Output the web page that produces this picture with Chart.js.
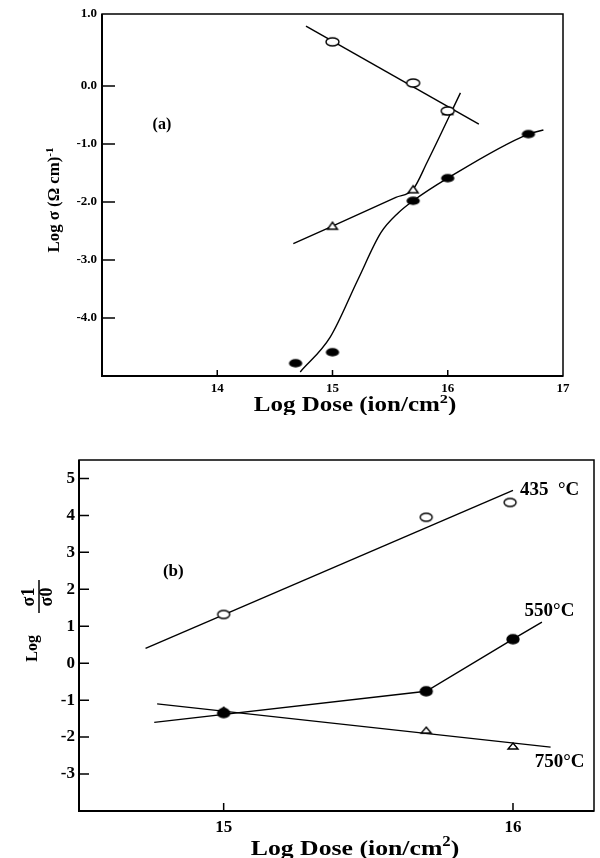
<!DOCTYPE html>
<html lang="en">
<head>
  <meta charset="UTF-8" />
  <title>Log conductivity vs dose</title>
  <script src="https://cdn.jsdelivr.net/npm/chart.js"></script>
  <style>
    body { margin: 0; background: #fff; }
    .panel { position: absolute; left: 0; width: 600px; }
    #panelA { top: 0; height: 415px; }
    #panelB { top: 415px; height: 443px; }
  </style>
</head>
<body>
  <div class="panel" id="panelA"><canvas id="chartA" width="600" height="415"></canvas></div>
  <div class="panel" id="panelB"><canvas id="chartB" width="600" height="443"></canvas></div>

  <script>
    // ---- panel (a) data ----
    const aTicksX = [14, 15, 16, 17];
    const aTicksY = [-4, -3, -2, -1, 0, 1.24];
    const aTickLabelsY = ['-4.0', '-3.0', '-2.0', '-1.0', '0.0', '1.0'];
    const aOpenCircles = [{x: 15.0, y: 0.76}, {x: 15.7, y: 0.05}, {x: 16.0, y: -0.43}];
    const aOpenFit = [{x: 14.77, y: 1.03}, {x: 16.27, y: -0.66}];
    const aTriangles = [{x: 15.0, y: -2.41}, {x: 15.7, y: -1.78}, {x: 16.0, y: -0.43}];
    const aTriCurve = [{x: 14.66, y: -2.72}, {x: 15.55, y: -1.92}, {x: 15.7, y: -1.78}, {x: 15.82, y: -1.32}, {x: 16.11, y: -0.12}];
    const aFilled = [{x: 14.68, y: -4.78}, {x: 15.0, y: -4.59}, {x: 15.7, y: -1.98}, {x: 16.0, y: -1.59}, {x: 16.7, y: -0.83}];
    const aFilledCurve = [
      {x: 14.72, y: -4.93}, {x: 14.98, y: -4.33}, {x: 15.22, y: -3.34}, {x: 15.42, y: -2.53},
      {x: 15.57, y: -2.19}, {x: 15.7, y: -1.98}, {x: 16.0, y: -1.59}, {x: 16.7, y: -0.83}, {x: 16.83, y: -0.76}
    ];

    // ---- panel (b) data ----
    const bTicksX = [15, 16];
    const bTicksY = [-3, -2, -1, 0, 1, 2, 3, 4, 5];
    const b435 = [{x: 15.0, y: 1.32}, {x: 15.7, y: 3.95}, {x: 15.99, y: 4.35}];
    const b435Fit = [{x: 14.73, y: 0.4}, {x: 16.0, y: 4.68}];
    const b550 = [{x: 15.0, y: -1.35}, {x: 15.7, y: -0.76}, {x: 16.0, y: 0.65}];
    const b550Line = [{x: 14.76, y: -1.6}, {x: 15.7, y: -0.76}, {x: 16.0, y: 0.65}, {x: 16.1, y: 1.11}];
    const b750 = [{x: 15.0, y: -1.27}, {x: 15.7, y: -1.81}, {x: 16.0, y: -2.24}];
    const b750Fit = [{x: 14.77, y: -1.1}, {x: 16.13, y: -2.27}];

    const SERIF = '"Liberation Serif", "DejaVu Serif", serif';

    // marker images (the scanned figure has slightly squashed symbols)
    function marker(kind, w, h) {
      const c = document.createElement('canvas');
      c.width = w + 4; c.height = h + 4;
      const g = c.getContext('2d');
      g.lineWidth = 1.4;
      g.strokeStyle = '#000';
      g.beginPath();
      if (kind === 'tri') {
        g.moveTo(c.width / 2, 2);
        g.lineTo(w + 2, h + 2);
        g.lineTo(2, h + 2);
        g.closePath();
      } else {
        g.ellipse(c.width / 2, c.height / 2, w / 2, h / 2, 0, 0, Math.PI * 2);
      }
      g.fillStyle = kind === 'dot' ? '#000' : '#fff';
      g.fill();
      g.stroke();
      return c;
    }

    function lineSet(data, extra) {
      return Object.assign({
        data: data, showLine: true, pointRadius: 0, borderColor: '#000',
        borderWidth: 1.4, tension: 0, order: 2
      }, extra || {});
    }
    function pointSet(data, style) {
      return { data: data, showLine: false, pointStyle: style, pointRadius: 5, order: 0 };
    }

    // draw text with superscript parts, optionally rotated; sx stretches it sideways
    function richText(ctx, parts, x, y, size, rotate, sx) {
      ctx.save();
      ctx.translate(x, y);
      if (rotate) ctx.rotate(-Math.PI / 2);
      ctx.scale(sx || 1, 1);
      ctx.fillStyle = '#000';
      ctx.textBaseline = 'alphabetic';
      let total = 0;
      parts.forEach(p => {
        ctx.font = 'bold ' + (p.sup ? size * 0.65 : size) + 'px ' + SERIF;
        total += ctx.measureText(p.t).width;
      });
      let cx = -total / 2;
      parts.forEach(p => {
        ctx.font = 'bold ' + (p.sup ? size * 0.65 : size) + 'px ' + SERIF;
        ctx.fillText(p.t, cx, p.sup ? -size * 0.4 : 0);
        cx += ctx.measureText(p.t).width;
      });
      ctx.restore();
    }

    // frame, inward tick marks and free text
    const framePlugin = {
      id: 'frame',
      afterDraw(chart, args, opts) {
        const ctx = chart.ctx;
        const a = chart.chartArea;
        const xs = chart.scales.x, ys = chart.scales.y;
        ctx.save();
        ctx.strokeStyle = '#000';
        ctx.lineWidth = 1.5;
        ctx.strokeRect(a.left, a.top, a.right - a.left, a.bottom - a.top);
        ctx.lineWidth = 2;
        ctx.beginPath();
        ctx.moveTo(a.left, a.top); ctx.lineTo(a.left, a.bottom); ctx.lineTo(a.right, a.bottom);
        ctx.stroke();
        ctx.lineWidth = 1.5;
        ctx.beginPath();
        ys.ticks.forEach(t => {
          const py = ys.getPixelForValue(t.value);
          if (py <= a.top + 1 || py >= a.bottom - 1) return;
          ctx.moveTo(a.left, py); ctx.lineTo(a.left + opts.yTick, py);
        });
        xs.ticks.forEach(t => {
          const px = xs.getPixelForValue(t.value);
          if (px >= a.right - 1) return;
          ctx.moveTo(px, a.bottom); ctx.lineTo(px, a.bottom - opts.xTick);
        });
        ctx.stroke();
        (opts.notes || []).forEach(n => {
          ctx.font = 'bold ' + n.size + 'px ' + SERIF;
          ctx.fillStyle = '#000';
          ctx.textAlign = n.align || 'left';
          ctx.textBaseline = 'middle';
          ctx.fillText(n.text, xs.getPixelForValue(n.x), ys.getPixelForValue(n.y));
        });
        ctx.restore();
        if (opts.draw) opts.draw(ctx, chart);
      }
    };

    function scaleOpts(min, max, ticks, labels, fontSize, pad, fit) {
      return {
        type: 'linear', min: min, max: max,
        grid: { display: false, drawTicks: false },
        border: { display: false },
        afterBuildTicks: s => { s.ticks = ticks.map(v => ({ value: v })); },
        afterFit: fit,
        ticks: {
          autoSkip: false, maxRotation: 0, color: '#000', padding: pad,
          font: { family: SERIF, size: fontSize, weight: 'bold' },
          callback: (v) => {
            const i = ticks.indexOf(v);
            return labels ? labels[i] : String(v);
          }
        }
      };
    }

    const common = {
      responsive: false,
      animation: false,
      plugins: { legend: { display: false }, tooltip: { enabled: false } }
    };

    // ---------- chart (a) ----------
    new Chart(document.getElementById('chartA'), {
      type: 'scatter',
      data: {
        datasets: [
          pointSet(aOpenCircles, marker('open', 13, 8)),
          pointSet(aTriangles, marker('tri', 10, 7)),
          pointSet(aFilled, marker('dot', 12, 7)),
          lineSet(aOpenFit),
          lineSet(aTriCurve, { cubicInterpolationMode: 'monotone' }),
          lineSet(aFilledCurve, { cubicInterpolationMode: 'monotone' })
        ]
      },
      options: Object.assign({}, common, {
        layout: { padding: { left: 0, top: 14, right: 37, bottom: 0 } },
        scales: {
          x: scaleOpts(13, 17, aTicksX, null, 13, 5, s => { s.height = 39; }),
          y: scaleOpts(-5, 1.24, aTicksY, aTickLabelsY, 13, 5, s => { s.width = 102; })
        },
        plugins: Object.assign({}, common.plugins, {
          frame: {
            yTick: 13, xTick: 6,
            notes: [{ text: '(a)', x: 13.52, y: -0.67, size: 16, align: 'center' }],
            draw: (ctx) => {
              richText(ctx, [{t: 'Log Dose (ion/cm'}, {t: '2', sup: true}, {t: ')'}], 355, 411, 20, false, 1.25);
              richText(ctx, [{t: 'Log σ (Ω cm)'}, {t: '-1', sup: true}], 59, 200, 16, true, 1.05);
            }
          }
        })
      }),
      plugins: [framePlugin]
    });

    // ---------- chart (b) ----------
    new Chart(document.getElementById('chartB'), {
      type: 'scatter',
      data: {
        datasets: [
          pointSet(b435, marker('open', 12, 8)),
          pointSet(b550, marker('dot', 12, 9)),
          pointSet(b750, marker('tri', 10, 6)),
          lineSet(b435Fit),
          lineSet(b550Line),
          lineSet(b750Fit)
        ]
      },
      options: Object.assign({}, common, {
        layout: { padding: { left: 0, top: 45, right: 3, bottom: 0 } },
        scales: {
          x: scaleOpts(14.5, 16.28, bTicksX, null, 17, 6, s => { s.height = 47; }),
          y: scaleOpts(-4, 5.5, bTicksY, null, 17, 4, s => { s.width = 79; })
        },
        plugins: Object.assign({}, common.plugins, {
          frame: {
            yTick: 10, xTick: 8,
            notes: [
              { text: '(b)', x: 14.826, y: 2.49, size: 17, align: 'center' },
              { text: '435  °C', x: 16.024, y: 4.68, size: 19 },
              { text: '550°C', x: 16.04, y: 1.41, size: 19 },
              { text: '750°C', x: 16.075, y: -2.68, size: 19 }
            ],
            draw: (ctx) => {
              richText(ctx, [{t: 'Log Dose (ion/cm'}, {t: '2', sup: true}, {t: ')'}], 355, 440, 22, false, 1.17);
              // rotated "Log σ1/σ0"
              ctx.save();
              ctx.translate(37, 207);
              ctx.rotate(-Math.PI / 2);
              ctx.fillStyle = '#000';
              ctx.strokeStyle = '#000';
              ctx.font = 'bold 16px ' + SERIF;
              ctx.textAlign = 'right';
              ctx.fillText('Log', -13, 0);
              ctx.font = 'bold 18px ' + SERIF;
              ctx.textAlign = 'center';
              ctx.fillText('σ1', 25, -3);
              ctx.fillText('σ0', 25, 15);
              ctx.lineWidth = 1.5;
              ctx.beginPath();
              ctx.moveTo(9, 2); ctx.lineTo(42, 2);
              ctx.stroke();
              ctx.restore();
            }
          }
        })
      }),
      plugins: [framePlugin]
    });
  </script>
</body>
</html>
